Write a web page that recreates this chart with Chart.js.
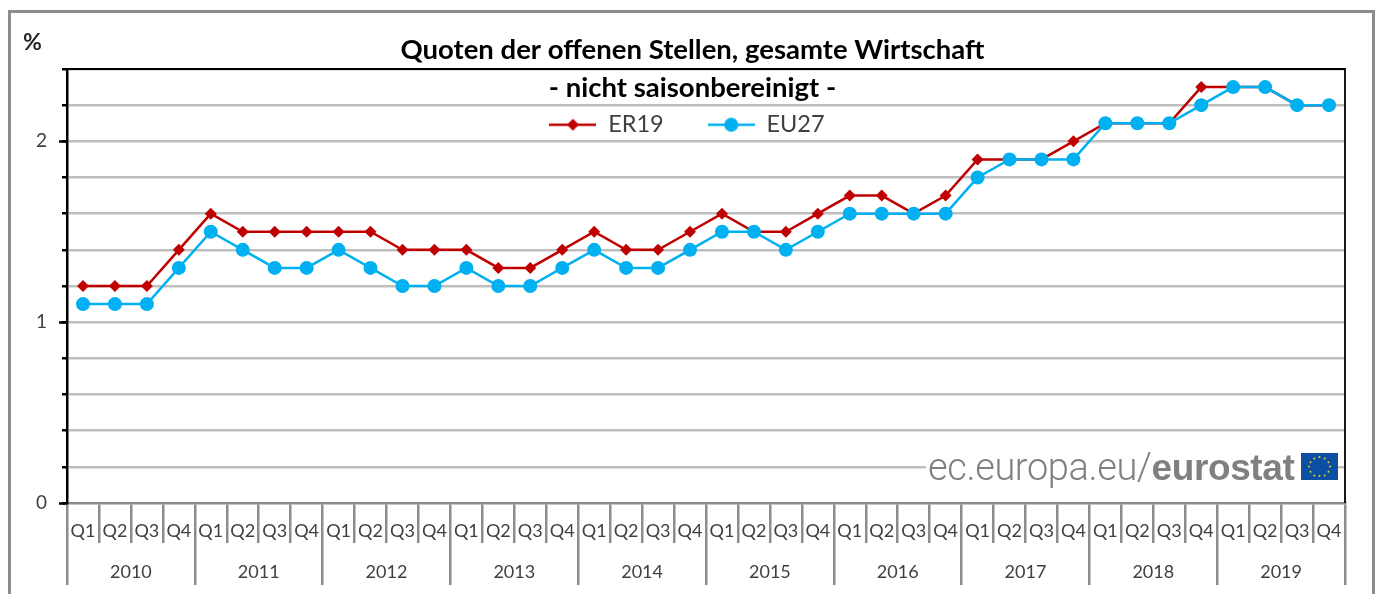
<!DOCTYPE html>
<html lang="de">
<head>
<meta charset="utf-8">
<title>Quoten der offenen Stellen</title>
<script src="https://cdn.jsdelivr.net/npm/chart.js@4"></script>
<style>
html,body{margin:0;padding:0;background:#fff;overflow:hidden;width:1375px;height:594px;font-family:Lato,sans-serif}
#frame{position:absolute;left:8px;top:10px;width:1361px;height:640px;border:3px solid #8c8c8c;box-sizing:content-box}
#wrap{position:absolute;left:9px;top:0;width:1366px;height:594px}
#pct{position:absolute;left:23px;top:27px;font:bold 23px Lato,sans-serif;color:#262626}
#logo{position:absolute;left:926px;top:446px;width:412px;height:40px;background:#fff;white-space:nowrap;color:#808080;font:300 38px/42px Roboto,sans-serif;letter-spacing:-0.4px}
#logo b{font:bold 37px/42px "Liberation Sans",sans-serif}
#logo svg{position:absolute;left:375px;top:7px}
</style>
</head>
<body>
<div id="frame"></div>
<div id="wrap"><canvas id="c" width="1366" height="594"></canvas></div>
<div id="pct">%</div>
<div id="logo"><span style="margin-left:2px">ec.europa.eu/<b>eurostat</b></span>
<svg width="37" height="27" viewBox="0 0 37 27"><rect width="37" height="27" fill="#0b4ea2"/><g fill="#e5d21f"><circle cx="18.5" cy="4" r="1"/><circle cx="23.7" cy="5.4" r="1"/><circle cx="27.5" cy="9.2" r="1"/><circle cx="29" cy="13.5" r="1"/><circle cx="27.5" cy="18.8" r="1"/><circle cx="23.7" cy="22.6" r="1"/><circle cx="18.5" cy="23" r="1"/><circle cx="13.3" cy="22.6" r="1"/><circle cx="9.5" cy="18.8" r="1"/><circle cx="8" cy="13.5" r="1"/><circle cx="9.5" cy="9.2" r="1"/><circle cx="13.3" cy="5.4" r="1"/></g></svg></div>
<script>
const years = ["2010","2011","2012","2013","2014","2015","2016","2017","2018","2019"];
const quarters = ["Q1","Q2","Q3","Q4"];
const er19 = [1.2,1.2,1.2,1.4, 1.6,1.5,1.5,1.5, 1.5,1.5,1.4,1.4, 1.4,1.3,1.3,1.4, 1.5,1.4,1.4,1.5,
              1.6,1.5,1.5,1.6, 1.7,1.7,1.6,1.7, 1.9,1.9,1.9,2.0, 2.1,2.1,2.1,2.3, 2.3,2.3,2.2,2.2];
const eu27 = [1.1,1.1,1.1,1.3, 1.5,1.4,1.3,1.3, 1.4,1.3,1.2,1.2, 1.3,1.2,1.2,1.3, 1.4,1.3,1.3,1.4,
              1.5,1.5,1.4,1.5, 1.6,1.6,1.6,1.6, 1.8,1.9,1.9,1.9, 2.1,2.1,2.1,2.2, 2.3,2.3,2.2,2.2];
const titleLines = ["Quoten der offenen Stellen, gesamte Wirtschaft","- nicht saisonbereinigt -"];
const RED = "#c00000", BLUE = "#00b0f0", AXIS = "#8c8c8c", GRID = "#bfbfbf", TXT = "#404040";
const labels = years.flatMap(() => quarters);

function sample(color, style, r) {
  const c = document.createElement("canvas");
  c.width = 47; c.height = 20;
  const g = c.getContext("2d");
  g.strokeStyle = color; g.fillStyle = color; g.lineWidth = 2.5;
  g.beginPath(); g.moveTo(0,10); g.lineTo(47,10); g.stroke();
  g.beginPath();
  if (style === "circle") g.arc(23.5,10,r,0,Math.PI*2);
  else { g.moveTo(23.5,10-r); g.lineTo(23.5+r,10); g.lineTo(23.5,10+r); g.lineTo(23.5-r,10); g.closePath(); }
  g.fill();
  return c;
}
const samples = [sample(RED,"diamond",6), sample(BLUE,"circle",7)];

const framePlugin = {
  id: "frameLines",
  beforeLayout(chart) {
    // the legend sits inside the plot, so it must take no room in the layout
    const l = chart.legend;
    if (!l._wrapped) {
      const fit = l.fit;
      l.fit = function () { fit.call(this); this._realHeight = this.height; this.height = 0; };
      l._wrapped = true;
    }
  },
  afterLayout(chart) {
    const l = chart.legend, h = l._realHeight;
    l.height = h;
    l.top = 124 - 44 - 11; l.bottom = l.top + h;
    l.left += 1; l.right += 1;
    const t = chart.titleBlock;
    t.left += 6.5; t.right += 6.5;
  },
  beforeDatasetsDraw(chart) {
    const {ctx, chartArea:a} = chart;
    ctx.save(); ctx.strokeStyle = "#000"; ctx.lineWidth = 1.8;
    ctx.beginPath(); ctx.moveTo(a.left,a.top); ctx.lineTo(a.right,a.top); ctx.lineTo(a.right,a.bottom); ctx.stroke();
    ctx.restore();
  }
};

new Chart(document.getElementById("c"), {
  type: "line",
  plugins: [framePlugin],
  data: {
    labels,
    datasets: [
      {label:"ER19", data:er19, order:2, borderColor:RED, backgroundColor:RED, borderWidth:2.5,
       pointStyle:"rectRot", pointRadius:6, pointBackgroundColor:RED, pointBorderColor:RED, pointBorderWidth:0, tension:0, yAxisID:"y", xAxisID:"x"},
      {label:"EU27", data:eu27, order:1, borderColor:BLUE, backgroundColor:BLUE, borderWidth:2.5,
       pointStyle:"circle", pointRadius:7, pointBackgroundColor:BLUE, pointBorderColor:BLUE, pointBorderWidth:0, tension:0, yAxisID:"y", xAxisID:"x"}
    ]
  },
  options: {
    responsive:false, animation:false, devicePixelRatio:1,
    layout:{padding:{left:18,right:30,top:0,bottom:9}},
    plugins:{
      tooltip:{enabled:false},
      title:{display:true,text:titleLines,color:"#000",
        font:{family:"Lato",size:27.5,weight:"bold",lineHeight:1.35},
        padding:{top:32,bottom:-37.25}},
      legend:{display:true,position:"top",
        labels:{usePointStyle:true,pointStyleWidth:47,padding:44,color:TXT,
          font:{family:"Lato",size:23.5},
          generateLabels:(c)=>c.data.datasets.map((d,i)=>({text:d.label,pointStyle:samples[i],datasetIndex:i,fontColor:TXT,lineWidth:0,strokeStyle:"transparent",fillStyle:"transparent"}))}}
    },
    scales:{
      x:{type:"category",position:"bottom",offset:true,
        afterFit:s=>{s.height=40},
        grid:{offset:true,drawOnChartArea:false,tickLength:40,color:AXIS,tickColor:AXIS,lineWidth:2.5,tickWidth:2.5},
        border:{display:true,color:AXIS,width:2.5},
        ticks:{autoSkip:false,maxRotation:0,minRotation:0,padding:-23,color:TXT,font:{family:"Lato",size:18}}},
      x2:{type:"category",position:"bottom",labels:years,offset:true,
        afterFit:s=>{s.height=42},
        grid:{offset:true,drawOnChartArea:false,tickLength:42,color:AXIS,tickColor:AXIS,lineWidth:2.5,tickWidth:2.5},
        border:{display:false},
        ticks:{autoSkip:false,maxRotation:0,minRotation:0,padding:-24,color:TXT,font:{family:"Lato",size:18}}},
      y:{type:"linear",position:"left",min:0,max:2.4,
        afterFit:s=>{s.width=0},
        ticks:{stepSize:0.2,display:false},
        grid:{color:(c)=>(c.tick.value===0?"transparent":GRID),lineWidth:2.5,tickLength:5,tickColor:"#000",tickWidth:2.5},
        border:{display:true,color:"#000",width:2.5}},
      y2:{type:"linear",position:"left",min:0,max:2.4,
        afterFit:s=>{s.width=40},
        ticks:{stepSize:1,includeBounds:false,padding:12,color:TXT,font:{family:"Lato",size:19},callback:v=>String(v)},
        grid:{drawOnChartArea:false,tickLength:8,tickColor:"#000",tickWidth:2.5},
        border:{display:false}}
    }
  }
});
</script>
</body>
</html>
